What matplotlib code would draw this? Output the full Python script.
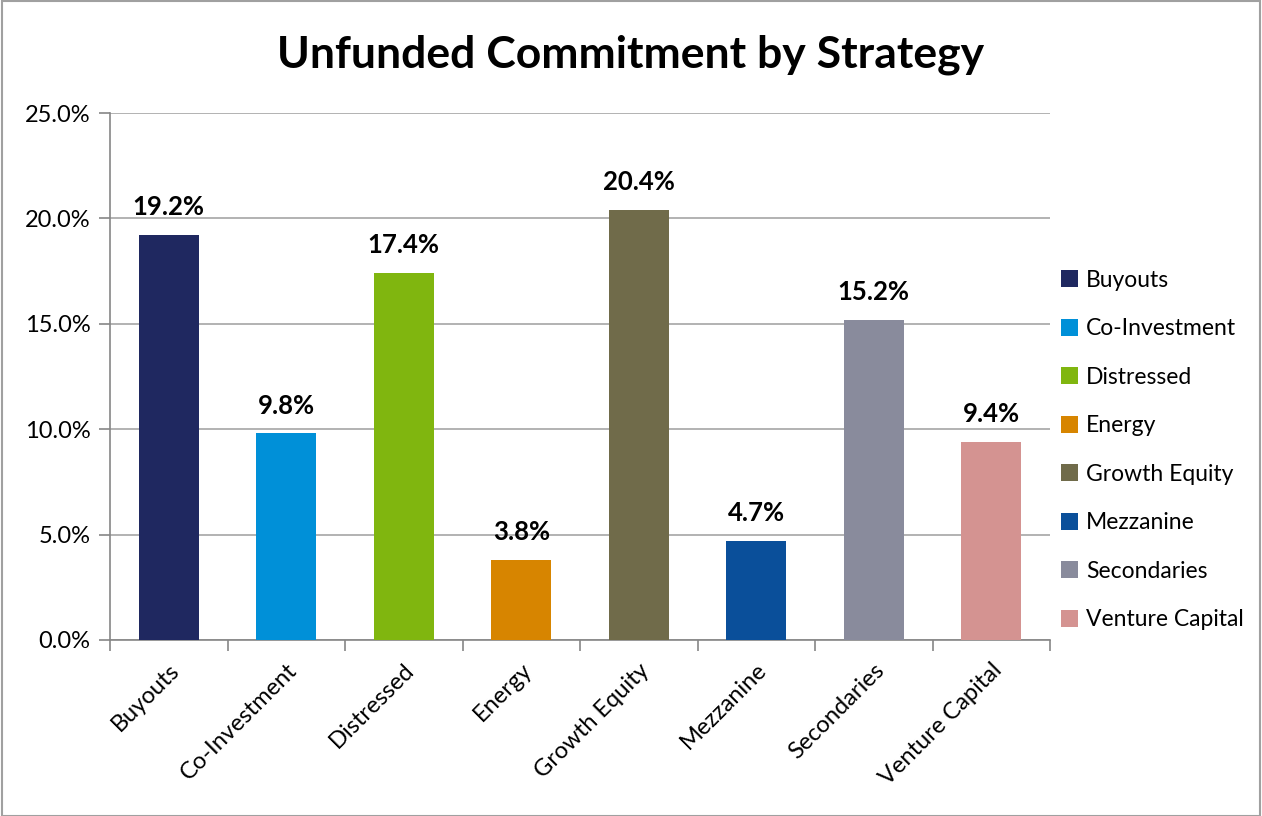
import matplotlib
matplotlib.use("Agg")
from matplotlib import pyplot as plt
from matplotlib.patches import Patch, Rectangle
import numpy as np

plt.rcParams['font.family'] = ['Lato', 'DejaVu Sans']

strategies = ["Buyouts", "Co-Investment", "Distressed", "Energy",
              "Growth Equity", "Mezzanine", "Secondaries", "Venture Capital"]
shares = [19.2, 9.8, 17.4, 3.8, 20.4, 4.7, 15.2, 9.4]
bar_colors = ["#1f2860", "#0090d8", "#80b60f", "#d78500",
              "#706b4a", "#0a4f9a", "#898b9c", "#d49391"]
y_ticks = [0, 5, 10, 15, 20, 25]

fig = plt.figure(figsize=(12.62, 8.16), dpi=100)
ax = fig.add_axes([110/1262, 1 - 640/816, 940/1262, 527/816])

x = np.arange(len(strategies))
ax.bar(x, shares, width=0.51, color=bar_colors, zorder=3)

for xi, v in zip(x, shares):
    ax.text(xi, v + 0.75, f"{v:.1f}%", ha="center", va="bottom",
            fontsize=18.5, fontweight="bold", zorder=4)

ax.set_xlim(-0.5, len(strategies) - 0.5)
ax.set_ylim(0, 25)
ax.set_yticks(y_ticks)
ax.set_yticklabels([f"{t:.1f}%" for t in y_ticks], fontsize=17)
ax.yaxis.grid(True, color="#a6a6a6", linewidth=1.2, zorder=0)

ax.set_xticks(x)
ax.set_xticklabels(strategies, rotation=45, ha="right", rotation_mode="anchor",
                   fontsize=17)
ax.set_xticks(np.arange(-0.5, len(strategies)), minor=True)
ax.tick_params(axis="x", which="major", length=0, pad=14)
ax.tick_params(axis="x", which="minor", length=8, width=1.2, color="#868686",
               direction="out")
ax.tick_params(axis="y", length=8, width=1.2, color="#868686", pad=6)

for s in ["top", "right"]:
    ax.spines[s].set_visible(False)
for s in ["left", "bottom"]:
    ax.spines[s].set_color("#868686")
    ax.spines[s].set_linewidth(1.2)

fig.text(631/1262, 1 - 55/816, "Unfunded Commitment by Strategy",
         ha="center", va="center", fontsize=32, fontweight="bold")

handles = [Patch(facecolor=c, label=s) for c, s in zip(bar_colors, strategies)]
fig.legend(handles=handles, loc="center left",
           bbox_to_anchor=(1040/1262, 1 - 450/816), frameon=False,
           fontsize=16.5, handlelength=0.75, handleheight=0.75,
           handletextpad=0.35, labelspacing=1.2)

fig.add_artist(Rectangle((0.0015, 0.0), 0.997, 0.9985, transform=fig.transFigure,
                         fill=False, edgecolor="#a0a0a0", linewidth=1.5))

fig.savefig("out.png", dpi=100)
